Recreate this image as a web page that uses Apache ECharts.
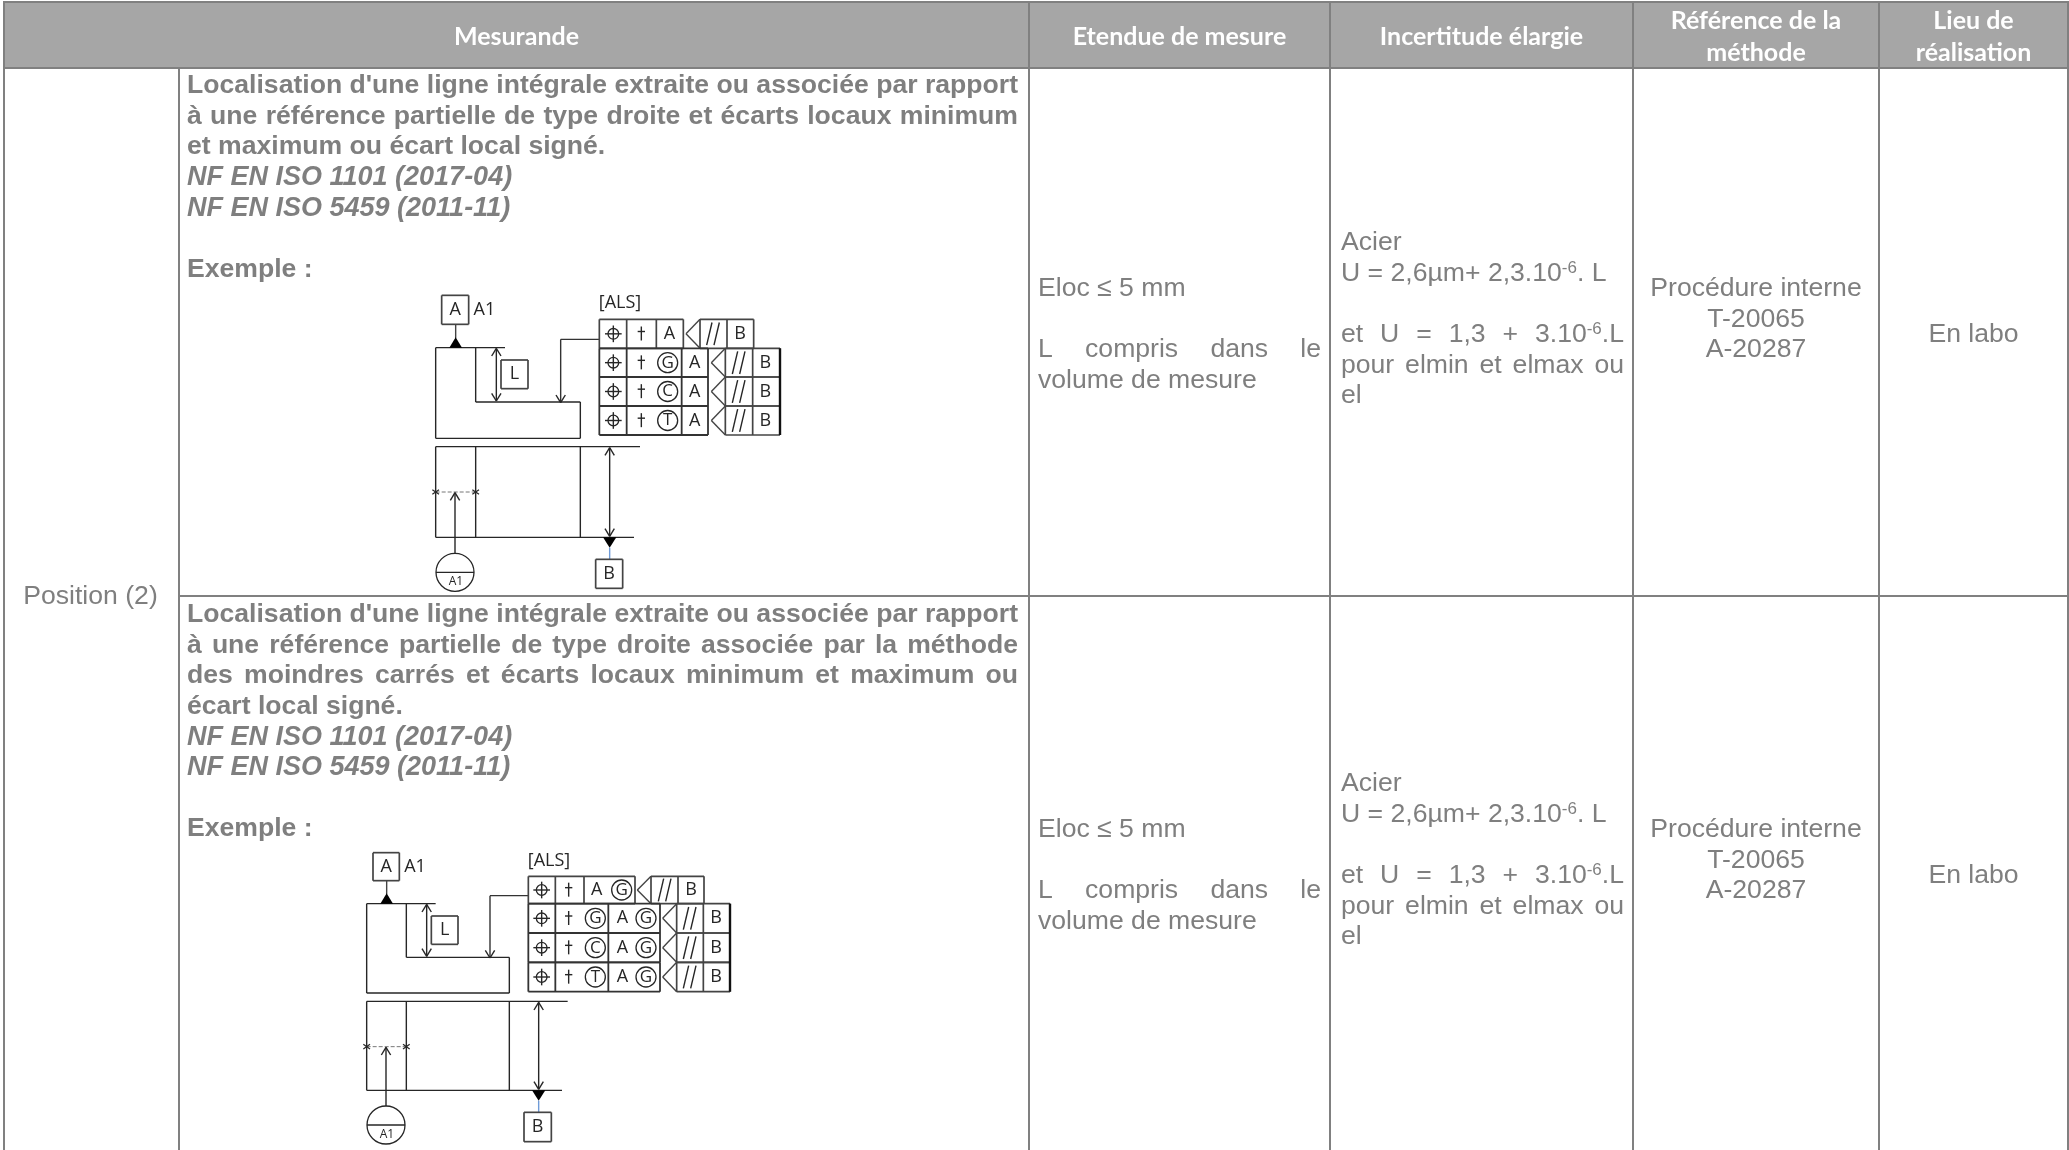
<!DOCTYPE html>
<html lang="fr">
<head>
<meta charset="UTF-8">
<title>Position (2)</title>
<script src="https://cdn.jsdelivr.net/npm/echarts@6/dist/echarts.min.js"></script>
<style>
html, body { margin: 0; padding: 0; background: #fff; }
#chart { width: 2069px; height: 1150px; }
</style>
</head>
<body>
<div id="chart"></div>
<script>
// table content
const headers = [['Mesurande'], ['Etendue de mesure'], ['Incertitude élargie'], ['Référence de la', 'méthode'], ['Lieu de', 'réalisation']];
const rowLabel = 'Position (2)';
const measurand1 = ["Localisation d'une ligne intégrale extraite ou associée par rapport", 'à une référence partielle de type droite et écarts locaux minimum', 'et maximum ou écart local signé.'];
const measurand2 = ["Localisation d'une ligne intégrale extraite ou associée par rapport", 'à une référence partielle de type droite associée par la méthode', 'des moindres carrés et écarts locaux minimum et maximum ou', 'écart local signé.'];
const isoRefs = ['NF EN ISO 1101 (2017-04)', 'NF EN ISO 5459 (2011-11)'];
const exampleLabel = 'Exemple :';
const rangeLines = ['Eloc ≤ 5 mm', '', 'L compris dans le', 'volume de mesure'];
const uncertaintyLines = ['Acier', 'U = 2,6µm+ 2,3.10^{-6}. L', '', 'et U = 1,3 + 3.10^{-6}.L', 'pour elmin et elmax ou', 'el'];
const methodLines = ['Procédure interne', 'T-20065', 'A-20287'];
const placeLabel = 'En labo';
const diagramTitle = '[ALS]';
const firstFrameLetters1 = ['A'];
const firstFrameLetters2 = ['A', 'G'];
const frameModifiers = ['G', 'C', 'T'];

// layout
const W = 2069, H = 1150;
const colX = [4, 1029, 1330, 1633, 1879, 2068];
const labelColX = 179;
const headTop = 3, headBottom = 68, rowMid = 596;
const LH = 30.6;
const GREY = '#7f7f7f', BORDER = '#808080', HEAD = '#a6a6a6', INK = '#262626';
const BODY = '26.6px "Liberation Sans"';
const BOLD = 'bold 26.6px "Liberation Sans"';
const ITALIC = 'italic bold 27px "Liberation Sans"';
const HEADFONT = 'bold 25px Lato';
const SUP = '17px "Liberation Sans"';
const DIAFONT = '"Open Sans"';

const marks = [];
const ctx = document.createElement('canvas').getContext('2d');
function textW(s, font) { ctx.font = font; return ctx.measureText(s).width; }

function rect(x, y, w, h, fill) { marks.push({ t: 'rect', x, y, w, h, fill }); }
function seg(x1, y1, x2, y2, color, width, dash) { marks.push({ t: 'line', x1, y1, x2, y2, color, width, dash }); }
function txt(s, x, y, font, fill, align, base) { marks.push({ t: 'text', s, x, y, font, fill, align: align || 'left', base: base || 'bottom' }); }

// a word can hold a ^{..} superscript, so split it in runs
function runs(word) {
  return word.split(/(\^\{[^}]*\})/).filter(Boolean).map(r =>
    r[0] === '^' ? { s: r.slice(2, -1), sup: true } : { s: r, sup: false });
}
function runsW(word, font) {
  return runs(word).reduce((a, r) => a + textW(r.s, r.sup ? SUP : font), 0);
}
function drawWord(word, x, y, font, fill) {
  runs(word).forEach(r => {
    const f = r.sup ? SUP : font;
    txt(r.s, x, r.sup ? y - 8 : y, f, fill);
    x += textW(r.s, f);
  });
  return x;
}
function drawLine(line, x0, x1, y, font, fill, mode) {
  const words = line.split(' ');
  const space = textW(' ', font);
  const total = words.reduce((a, w) => a + runsW(w, font), 0);
  let gap = space, x = x0;
  const natural = total + space * (words.length - 1);
  if (mode === 'justify' && words.length > 1) gap = (x1 - x0 - total) / (words.length - 1);
  if (mode === 'center') x = (x0 + x1 - natural) / 2;
  words.forEach(w => { x = drawWord(w, x, y, font, fill) + gap; });
}
function drawBlock(lines, x0, x1, y, font, mode, justified) {
  lines.forEach((l, i) => {
    if (l) drawLine(l, x0, x1, y + i * LH, font, GREY, justified && justified.includes(i) ? 'justify' : mode);
  });
}

// header and borders
rect(colX[0], headTop, colX[5] - colX[0], headBottom - headTop, HEAD);
headers.forEach((lines, i) => {
  const cx = (colX[i] + colX[i + 1]) / 2;
  const ys = lines.length === 1 ? [43] : [27, 59];
  lines.forEach((l, j) => txt(l, cx, ys[j], HEADFONT, '#ffffff', 'center'));
});
seg(3, 2, W, 2, BORDER, 2);
seg(3, 68, W, 68, BORDER, 2);
seg(labelColX, rowMid, W, rowMid, BORDER, 2);
colX.forEach(x => seg(x, 1, x, H, BORDER, 2));
seg(labelColX, 68, labelColX, H, BORDER, 2);

// body text
const mL = 187, mR = 1018;
drawLine(rowLabel, 0, labelColX + 2, 604, BODY, GREY, 'center');
drawBlock(measurand1, mL, mR, 93, BOLD, 'left', [0, 1]);
drawBlock(isoRefs, mL, mR, 93 + 3 * LH, ITALIC, 'left');
drawBlock([exampleLabel], mL, mR, 277, BOLD, 'left');
drawBlock(measurand2, mL, mR, 622, BOLD, 'left', [0, 1, 2]);
drawBlock(isoRefs, mL, mR, 622 + 4 * LH, ITALIC, 'left');
drawBlock([exampleLabel], mL, mR, 836, BOLD, 'left');

[[296, 250, 296, 342], [837, 791, 837, 883]].forEach(([r, u, m, p]) => {
  drawBlock(rangeLines, 1038, 1321, r, BODY, 'left', [2]);
  drawBlock(uncertaintyLines, 1341, 1624, u, BODY, 'left', [3, 4]);
  drawBlock(methodLines, colX[3], colX[4], m, BODY, 'center');
  drawBlock([placeLabel], colX[4], colX[5], p, BODY, 'center');
});

// diagrams, described in units of 1/3 px from their origin
function diagram(ox, oy, g) {
  const X = v => ox + v / 3, Y = v => oy + v / 3;
  const ln = (a, b, c, d, col, w, dash) => seg(X(a), Y(b), X(c), Y(d), col || INK, w || 1.4, dash);
  const poly = (pts, col, w) => { for (let i = 0; i + 3 < pts.length; i += 2) ln(pts[i], pts[i + 1], pts[i + 2], pts[i + 3], col, w); };
  const box = (a, b, c, d, col, w) => poly([a, b, c, b, c, d, a, d, a, b], col, w);
  const label = (s, a, b, size) => txt(s, X(a), Y(b), (size || 18) + 'px ' + DIAFONT, INK, 'center', 'middle');
  const tri = (a, b, c, d, e, f) => marks.push({ t: 'poly', pts: [[X(a), Y(b)], [X(c), Y(d)], [X(e), Y(f)]] });
  const circ = (a, b, r, w) => marks.push({ t: 'circle', x: X(a), y: Y(b), r: r / 3, width: w || 1.3 });
  const headUp = (a, b) => poly([a - 14, b + 23, a, b, a + 14, b + 23]);
  const headDown = (a, b) => poly([a - 14, b - 23, a, b, a + 14, b - 23]);
  const dimV = (a, b, c) => { ln(a, b, a, c); headUp(a, b); headDown(a, c); };

  // part outline, top view
  poly([g.l, g.t, g.l, g.b, g.r, g.b, g.r, g.step, g.m, g.step, g.m, g.t]);
  ln(g.l, g.t, g.topEnd, g.t);
  dimV(g.dimX, g.t + 2, g.step - 3);
  box(g.lBox[0], g.lBox[1], g.lBox[2], g.lBox[3], '#444', 1.7);
  label('L', (g.lBox[0] + g.lBox[2]) / 2, (g.lBox[1] + g.lBox[3]) / 2);

  // datum A
  box(g.aBox[0], g.aBox[1], g.aBox[2], g.aBox[3], '#444', 1.7);
  label('A', (g.aBox[0] + g.aBox[2]) / 2, (g.aBox[1] + g.aBox[3]) / 2);
  label('A1', g.aBox[2] + 47, (g.aBox[1] + g.aBox[3]) / 2);
  ln(g.aX, g.aBox[3], g.aX, g.t - 28, '#444');
  tri(g.aX - 19, g.t, g.aX + 19, g.t, g.aX, g.t - 31);

  // leader to the step
  label(diagramTitle, g.als[0], g.als[1]);
  poly([g.fL, g.leadY, g.leadX, g.leadY, g.leadX, g.step], '#333');
  headDown(g.leadX, g.step + 2);

  // first frame
  const f = g.first;
  box(g.fL, f.t, f.r, f.b, '#444', 1.7);
  f.div.forEach(d => ln(d, f.t, d, f.b, '#444', 1.7));
  posSymbol(g.symX, (f.t + f.b) / 2);
  dagger(g.dagX, (f.t + f.b) / 2);
  f.items.forEach(it => item(it, (f.t + f.b) / 2));
  bParallel(f.tip, f.bL, f.bDiv, f.bR, f.t, f.b, f.parX, f.bX);

  // stacked frames
  g.ys.slice(0, -1).forEach((y0, i) => {
    const y1 = g.ys[i + 1], ym = (y0 + y1) / 2;
    box(g.fL, y0, g.stack.r, y1, '#333', 1.8);
    g.stack.div.forEach(d => ln(d, y0, d, y1, '#333', 1.8));
    posSymbol(g.symX, ym);
    dagger(g.dagX, ym);
    item({ c: frameModifiers[i], x: g.stack.modX }, ym);
    g.stack.items.forEach(it => item(it, ym));
    bParallel(g.stack.tip, g.stack.bL, g.stack.bDiv, g.stack.bR, y0, y1, g.stack.parX, g.stack.bX);
  });
  ln(g.stack.bR, g.ys[0], g.stack.bR, g.ys[3], '#111', 2.4);

  function item(it, ym) {
    if (it.c) { circ(it.x, ym, 30); label(it.c, it.x, ym, 17); } else label(it.s, it.x, ym);
  }
  function posSymbol(a, b) {
    circ(a, b, 16);
    ln(a - 25, b, a + 25, b); ln(a, b - 25, a, b + 25);
  }
  function dagger(a, b) {
    ln(a, b - 22, a, b + 20); ln(a - 11, b - 7, a + 11, b - 7);
  }
  function bParallel(tip, l, d, r, t, b, px, bx) {
    const m = (t + b) / 2;
    poly([l, t, tip, m, l, b], '#444', 1.4);
    box(l, t, r, b, '#444', 1.7);
    ln(d, t, d, b, '#444', 1.7);
    ln(px - 20, m + 34, px - 4, m - 34); ln(px + 2, m + 34, px + 18, m - 34);
    label('B', bx, m);
  }

  // part outline, side view
  ln(g.l, g.lt, g.ltEnd, g.lt);
  ln(g.l, g.lb, g.lbEnd, g.lb);
  [g.l, g.m, g.r].forEach(v => ln(v, g.lt, v, g.lb));
  const cy = g.lt + 136;
  ln(g.l, cy, g.m, cy, '#777', 1, [4, 2]);
  [g.l, g.m].forEach(v => { ln(v - 10, cy - 7, v + 10, cy + 7, INK, 1.2); ln(v - 10, cy + 7, v + 10, cy - 7, INK, 1.2); });
  ln(g.tgtX, g.tgtY - 57, g.tgtX, cy + 2);
  headUp(g.tgtX, cy + 2);
  circ(g.tgtX, g.tgtY, 57);
  ln(g.tgtX - 57, g.tgtY, g.tgtX + 57, g.tgtY);
  label('A1', g.tgtX + 3, g.tgtY + 29, 12);
  dimV(g.bDimX, g.lt + 3, g.lb - 3);
  tri(g.bDimX - 20, g.lb, g.bDimX + 20, g.lb, g.bDimX, g.lb + 31);
  ln(g.bDimX, g.lb + 31, g.bDimX, g.lb + 65, '#6f9bd8');
  box(g.bBox[0], g.bBox[1], g.bBox[2], g.bBox[3], '#444', 1.7);
  label('B', (g.bBox[0] + g.bBox[2]) / 2, (g.bBox[1] + g.bBox[3]) / 2);
}

diagram(400, 280, {
  l: 107, m: 227, r: 541, t: 203, b: 475, step: 366, topEnd: 315, dimX: 289,
  lBox: [303, 240, 384, 326], aBox: [125, 46, 206, 133], aX: 167, als: [660, 70],
  fL: 598, leadX: 482, leadY: 178, symX: 640, dagX: 724,
  first: { t: 118, b: 205, r: 850, div: [680, 769], items: [{ s: firstFrameLetters1[0], x: 808 }], tip: 858, bL: 900, bDiv: 981, bR: 1061, parX: 940, bX: 1020 },
  ys: [205, 291, 378, 465],
  stack: { r: 924, div: [680, 845], modX: 803, items: [{ s: 'A', x: 884 }], tip: 934, bL: 976, bDiv: 1058, bR: 1140, parX: 1017, bX: 1096 },
  lt: 500, lb: 772, ltEnd: 720, lbEnd: 702, tgtX: 165, tgtY: 877, bDimX: 629, bBox: [587, 838, 668, 925]
});
diagram(340, 840, {
  l: 80, m: 199, r: 508, t: 191, b: 459, step: 352, topEnd: 287, dimX: 260,
  lBox: [274, 228, 354, 313], aBox: [99, 38, 178, 122], aX: 140, als: [627, 62],
  fL: 565, leadX: 450, leadY: 167, symX: 605, dagX: 686,
  first: { t: 109, b: 191, r: 885, div: [646, 732], items: [{ s: firstFrameLetters2[0], x: 770 }, { c: firstFrameLetters2[1], x: 845 }], tip: 892, bL: 933, bDiv: 1014, bR: 1092, parX: 975, bX: 1053 },
  ys: [191, 279, 367, 455],
  stack: { r: 960, div: [646, 805], modX: 766, items: [{ s: 'A', x: 847 }, { c: 'G', x: 918 }], tip: 968, bL: 1010, bDiv: 1090, bR: 1170, parX: 1050, bX: 1128 },
  lt: 484, lb: 751, ltEnd: 683, lbEnd: 666, tgtX: 138, tgtY: 855, bDimX: 596, bBox: [552, 817, 634, 905]
});

// text anchored at the bottom of its box, nudge so y is the baseline
function fontSize(font) { return parseFloat(font.match(/([\d.]+)px/)[1]); }

function renderMark(params, api) {
  const m = marks[api.value(0)];
  const p = (x, y) => api.coord([x, y]);
  if (m.t === 'rect') {
    const a = p(m.x, m.y), b = p(m.x + m.w, m.y + m.h);
    return { type: 'rect', shape: { x: a[0], y: a[1], width: b[0] - a[0], height: b[1] - a[1] }, style: { fill: m.fill } };
  }
  if (m.t === 'line') {
    const a = p(m.x1, m.y1), b = p(m.x2, m.y2);
    return { type: 'line', shape: { x1: a[0], y1: a[1], x2: b[0], y2: b[1] }, style: { stroke: m.color, lineWidth: m.width, lineDash: m.dash || null } };
  }
  if (m.t === 'poly') {
    return { type: 'polygon', shape: { points: m.pts.map(q => p(q[0], q[1])) }, style: { fill: '#000' } };
  }
  if (m.t === 'circle') {
    const a = p(m.x, m.y);
    return { type: 'circle', shape: { cx: a[0], cy: a[1], r: m.r }, style: { fill: 'none', stroke: INK, lineWidth: m.width } };
  }
  const nudge = m.base === 'bottom' ? fontSize(m.font) * 0.24 : 0;
  const a = p(m.x, m.y + nudge);
  return { type: 'text', x: a[0], y: a[1], style: { text: m.s, font: m.font, fill: m.fill, textAlign: m.align, textVerticalAlign: m.base } };
}

const chart = echarts.init(document.getElementById('chart'));
chart.setOption({
  animation: false,
  grid: { left: 0, right: 0, top: 0, bottom: 0 },
  xAxis: { type: 'value', min: 0, max: W, show: false },
  yAxis: { type: 'value', min: 0, max: H, inverse: true, show: false },
  series: [{
    type: 'custom',
    coordinateSystem: 'cartesian2d',
    clip: false,
    silent: true,
    renderItem: renderMark,
    data: marks.map((m, i) => [i])
  }]
});
</script>
</body>
</html>
